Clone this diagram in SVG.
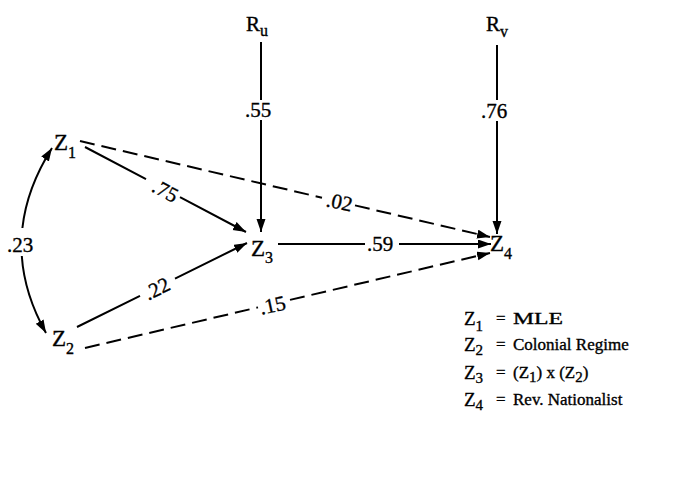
<svg xmlns="http://www.w3.org/2000/svg" width="675" height="489" viewBox="0 0 675 489">
<style>
text{font-family:"Liberation Serif","Times New Roman",serif;fill:#000;stroke:#000;stroke-width:0.35}
.n{font-size:23px}
.s{font-size:16px}
.lab{font-size:21px}
.leg{font-size:17px}
.lz{font-size:19px}
.ls{font-size:15px}
.c{fill:none;stroke:#000;stroke-width:2}
.d{stroke-dasharray:15 7}
</style>
<defs>
<marker id="ah" markerUnits="userSpaceOnUse" markerWidth="14" markerHeight="10" refX="13" refY="4.5" orient="auto">
<path d="M0,0 L13,4.5 L0,9 Z" fill="#000"/>
</marker>
</defs>
<rect width="675" height="489" fill="#fff"/>
<g id="connectors">
<path class="c" d="M261,42 V100 M261,120 V232" marker-end="url(#ah)"/>
<path class="c" d="M497,45 V100 M497,121 V234" marker-end="url(#ah)"/>
<path class="c" d="M278,244 H365 M399,244 H491" marker-end="url(#ah)"/>
<path class="c" d="M85,147 L146,179.2 M180,197.2 L246,232" marker-end="url(#ah)"/>
<path class="c" d="M77,327 L140,295.9 M175,278.6 L247,243" marker-end="url(#ah)"/>
<path class="c d" d="M80,141 L322,197.7 M355,205.4 L490,237" marker-end="url(#ah)"/>
<path class="c d" d="M85,348 L258,307.4 M290,299.9 L490,253" marker-end="url(#ah)"/>
<path class="c" d="M22.4,228 Q26.8,187.9 52,148" marker-end="url(#ah)"/>
<path class="c" d="M21.8,256 Q24.4,294.4 46,333" marker-end="url(#ah)"/>
<text class="lab" x="245" y="117">.55</text>
<text class="lab" x="481" y="118">.76</text>
<text class="lab" x="367" y="251">.59</text>
<text class="lab" x="7" y="252">.23</text>
<text class="lab" transform="translate(162,197) rotate(28)" text-anchor="middle">.75</text>
<text class="lab" transform="translate(160,295) rotate(-26)" text-anchor="middle">.22</text>
<text class="lab" transform="translate(338,209) rotate(12)" text-anchor="middle">.02</text>
<text class="lab" transform="translate(274,312) rotate(-12)" text-anchor="middle">.15</text>
</g>
<g id="Ru"><text class="n" x="246" y="31" style="font-size:21px">R<tspan class="s" dy="5">u</tspan></text></g>
<g id="Rv"><text class="n" x="486" y="31" style="font-size:21px">R<tspan class="s" dy="6">v</tspan></text></g>
<g id="Z1"><text class="n" x="54" y="150">Z<tspan class="s" dy="8">1</tspan></text></g>
<g id="Z2"><text class="n" x="52" y="346">Z<tspan class="s" dy="8">2</tspan></text></g>
<g id="Z3"><text class="n" x="251" y="256">Z<tspan class="s" dy="7">3</tspan></text></g>
<g id="Z4"><text class="n" x="490" y="251">Z<tspan class="s" dy="8">4</tspan></text></g>
<g id="legend">
<text class="lz" x="464" y="325">Z<tspan class="ls" dy="6">1</tspan></text>
<text class="leg" x="496" y="324">=</text>
<text class="leg" x="513" y="324" textLength="50" lengthAdjust="spacingAndGlyphs">MLE</text>
<text class="lz" x="464" y="351">Z<tspan class="ls" dy="4">2</tspan></text>
<text class="leg" x="496" y="350">=</text>
<text class="leg" x="513" y="350">Colonial Regime</text>
<text class="lz" x="464" y="379">Z<tspan class="ls" dy="4">3</tspan></text>
<text class="leg" x="496" y="378">=</text>
<text class="leg" x="513" y="378">(Z<tspan class="ls" dy="4">1</tspan><tspan dy="-4">) x (Z</tspan><tspan class="ls" dy="4">2</tspan><tspan dy="-4">)</tspan></text>
<text class="lz" x="464" y="406">Z<tspan class="ls" dy="4">4</tspan></text>
<text class="leg" x="496" y="405">=</text>
<text class="leg" x="513" y="405">Rev. Nationalist</text>
</g>
</svg>
